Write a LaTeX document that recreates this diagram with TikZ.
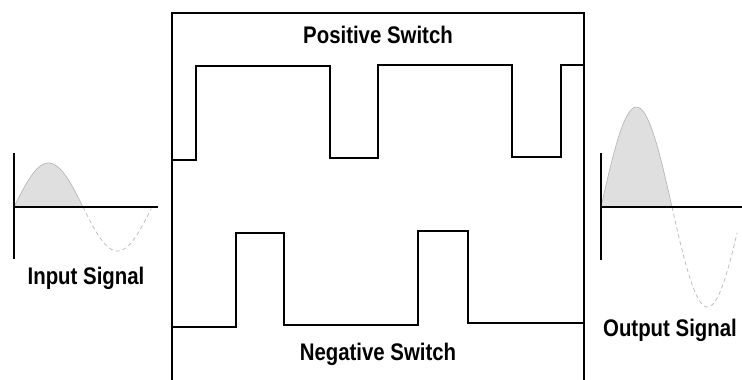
\documentclass[tikz,border=0pt]{standalone}
\usepackage{fontspec}
\newfontfamily\labelfont{Liberation Sans}[FakeStretch=0.85]
\usetikzlibrary{positioning}

\begin{document}
\begin{tikzpicture}[
	x=1pt, y=-1pt,
	wave/.style={line width=1.1pt, black},
	axis/.style={line width=1.4pt, black},
	lbl/.style={inner sep=0pt, font=\labelfont\bfseries\fontsize{24}{26}\selectfont},
	posfill/.style={fill=gray!25, draw=gray!60, line width=0.6pt},
	negdash/.style={draw=gray!50, dashed, dash pattern=on 4pt off 3pt, line width=0.8pt}
]
\useasboundingbox (0,0) rectangle (742,380);

% switch box
\draw[axis, line width=1.2pt] (172,380) -- (172,13) -- (584,13) -- (584,380);
\node[lbl] (posswitch) at (378,35) {Positive Switch};
\node[lbl] (negswitch) at (378,354) {Negative Switch};

% positive switch
\draw[wave] (172,160) -- (196,160) -- (196,66) -- (330,66) -- (330,158) -- (378,158)
	-- (378,65) -- (512,65) -- (512,157) -- (561,157) -- (561,65) -- (584,65);

% negative switch
\draw[wave] (172,327) -- (236,327) -- (236,233) -- (284,233) -- (284,325) -- (418,325)
	-- (418,231) -- (468,231) -- (468,323) -- (584,323);

% input signal
\filldraw[posfill] (14,207) -- plot[domain=0:180, samples=40] ({14+\x/180*69},{207-44*sin(\x)}) -- cycle;
\draw[negdash] plot[domain=180:358, samples=40] ({14+\x/180*69},{207-44*sin(\x)});
\draw[axis] (14,153) -- (14,259);
\draw[axis] (14,207) -- (158,207);
\node[lbl] (insignal) at (86,278) {Input Signal};

% output signal
\filldraw[posfill] (601,207) -- plot[domain=0:180, samples=40] ({601+\x/180*71},{207-100*sin(\x)}) -- cycle;
\draw[negdash] plot[domain=180:345, samples=40] ({601+\x/180*71},{207-100*sin(\x)});
\draw[axis] (601,153) -- (601,260);
\draw[axis] (601,207) -- (742,207);
\node[lbl] (outsignal) at (670,330) {Output Signal};

\end{tikzpicture}
\end{document}
